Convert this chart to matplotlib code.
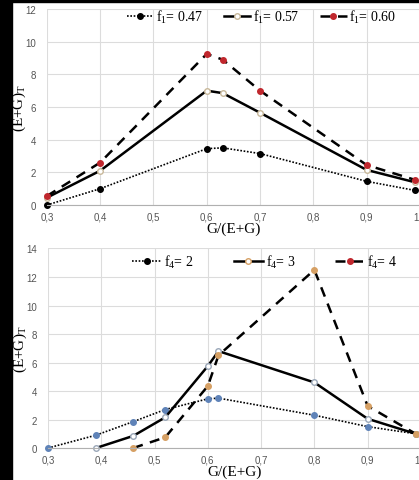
import matplotlib
matplotlib.use('Agg')
import matplotlib.pyplot as plt
from matplotlib.lines import Line2D
from matplotlib.patches import Rectangle
from matplotlib.ticker import FuncFormatter, MultipleLocator

plt.rcParams['font.family'] = 'Liberation Serif'
plt.rcParams['mathtext.fontset'] = 'custom'
plt.rcParams['mathtext.rm'] = 'Liberation Serif'
plt.rcParams['mathtext.it'] = 'Liberation Serif'

# top panel: f1 series
x_top = [0.3, 0.4, 0.6, 0.63, 0.7, 0.9, 0.99]
f1_047 = [0.0, 1.0, 3.45, 3.5, 3.15, 1.45, 0.9]
f1_057 = [0.45, 2.1, 7.0, 6.85, 5.65, 2.15, 1.4]
f1_060 = [0.55, 2.6, 9.25, 8.9, 7.0, 2.45, 1.55]
top_labels = ['f$_1$= 0.47', 'f$_1$= 0.57', 'f$_1$= 0.60']

# bottom panel: f4 series
x_f4_2 = [0.3, 0.39, 0.46, 0.52, 0.6, 0.62, 0.8, 0.9, 0.99]
f4_2 = [0.0, 0.9, 1.85, 2.7, 3.45, 3.5, 2.3, 1.5, 1.0]
x_f4_3 = [0.39, 0.46, 0.52, 0.6, 0.62, 0.8, 0.9, 0.99]
f4_3 = [0.0, 0.85, 2.15, 5.75, 6.8, 4.6, 2.05, 1.0]
x_f4_4 = [0.46, 0.52, 0.6, 0.62, 0.8, 0.9, 0.99]
f4_4 = [0.0, 0.75, 4.35, 6.5, 12.5, 2.95, 1.0]
bot_labels = ['f$_4$= 2', 'f$_4$= 3', 'f$_4$= 4']

RED = '#c0272d'
BLUE = '#5f83b8'
ORANGE = '#d6a064'
DOT = (0, (1, 1))
DASH = (0, (4, 3))

fig = plt.figure(figsize=(4.19, 4.81), dpi=100)
fig.patches.append(Rectangle((0, 0), 12 / 419, 1, transform=fig.transFigure,
                             color='black', zorder=-10))
fig.patches.append(Rectangle((0, 1 - 3 / 481), 1, 3 / 481, transform=fig.transFigure,
                             color='black', zorder=-10))

ax1 = fig.add_axes([0.112, 0.5717, 0.890, 0.4075])
ax2 = fig.add_axes([0.1146, 0.0665, 0.890, 0.4148])

comma = FuncFormatter(lambda v, p: ('%.1f' % v).replace('.', ','))


def style(ax, ymax, ystep):
    ax.set_xlim(0.3, 1.0)
    ax.set_ylim(0, ymax)
    ax.xaxis.set_major_locator(MultipleLocator(0.1))
    ax.yaxis.set_major_locator(MultipleLocator(ystep))
    ax.xaxis.set_major_formatter(comma)
    ax.grid(True, color='#dcdcdc', linewidth=0.8)
    ax.set_axisbelow(True)
    for s in ['top', 'right', 'left']:
        ax.spines[s].set_visible(False)
    ax.spines['bottom'].set_color('#b0b0b0')
    ax.tick_params(length=0, labelsize=7, colors='#555555',
                   labelfontfamily='Liberation Sans')
    ax.tick_params(axis='y', pad=8)
    ax.tick_params(axis='x', pad=5)
    ax.set_xlabel('G/(E+G)', fontsize=11, labelpad=0)
    ax.set_ylabel('(E+G)$_T$', fontsize=11)
    ax.yaxis.set_label_coords(-0.051, 0.5)


def handles(c1, c2e, c3):
    return [Line2D([], [], linestyle=DOT, color='black', lw=1.2, marker='o', ms=4,
                   mfc=c1, mec=c1),
            Line2D([], [], linestyle='-', color='black', lw=1.8, marker='o', ms=4,
                   mfc='white', mec=c2e),
            Line2D([], [], linestyle=DASH, color='black', lw=1.8, marker='o', ms=4,
                   mfc=c3, mec=c3)]


style(ax1, 12, 2)
ax1.plot(x_top, f1_047, linestyle=DOT, color='black', lw=1.2,
         marker='o', ms=4, mfc='black', mec='black', clip_on=False)
ax1.plot(x_top, f1_057, '-', color='black', lw=1.8,
         marker='o', ms=4, mfc='white', mec='#c8b89a', clip_on=False)
ax1.plot(x_top, f1_060, linestyle=DASH, color='black', lw=1.8,
         marker='o', ms=4, mfc=RED, mec=RED, clip_on=False)
ax1.legend(handles('black', '#c8b89a', RED), top_labels, ncol=3,
           loc='center left', bbox_to_anchor=(0.2145, 0.964),
           borderaxespad=0, borderpad=0,
           frameon=False, fontsize=10, handlelength=1.9, columnspacing=1.5,
           handletextpad=0.2)

style(ax2, 14, 2)
ax2.plot(x_f4_2, f4_2, linestyle=DOT, color='black', lw=1.2,
         marker='o', ms=4, mfc=BLUE, mec=BLUE, clip_on=False)
ax2.plot(x_f4_3, f4_3, '-', color='black', lw=1.8,
         marker='o', ms=4, mfc='white', mec='#9aa7b8', clip_on=False)
ax2.plot(x_f4_4, f4_4, linestyle=DASH, color='black', lw=1.8,
         marker='o', ms=4, mfc=ORANGE, mec=ORANGE, clip_on=False)
ax2.legend(handles('black', ORANGE, RED), bot_labels, ncol=3,
           loc='center left', bbox_to_anchor=(0.225, 0.937),
           borderaxespad=0, borderpad=0,
           frameon=False, fontsize=10, handlelength=2.1, columnspacing=2.9,
           handletextpad=0.2)

fig.savefig('out.png', dpi=100)
